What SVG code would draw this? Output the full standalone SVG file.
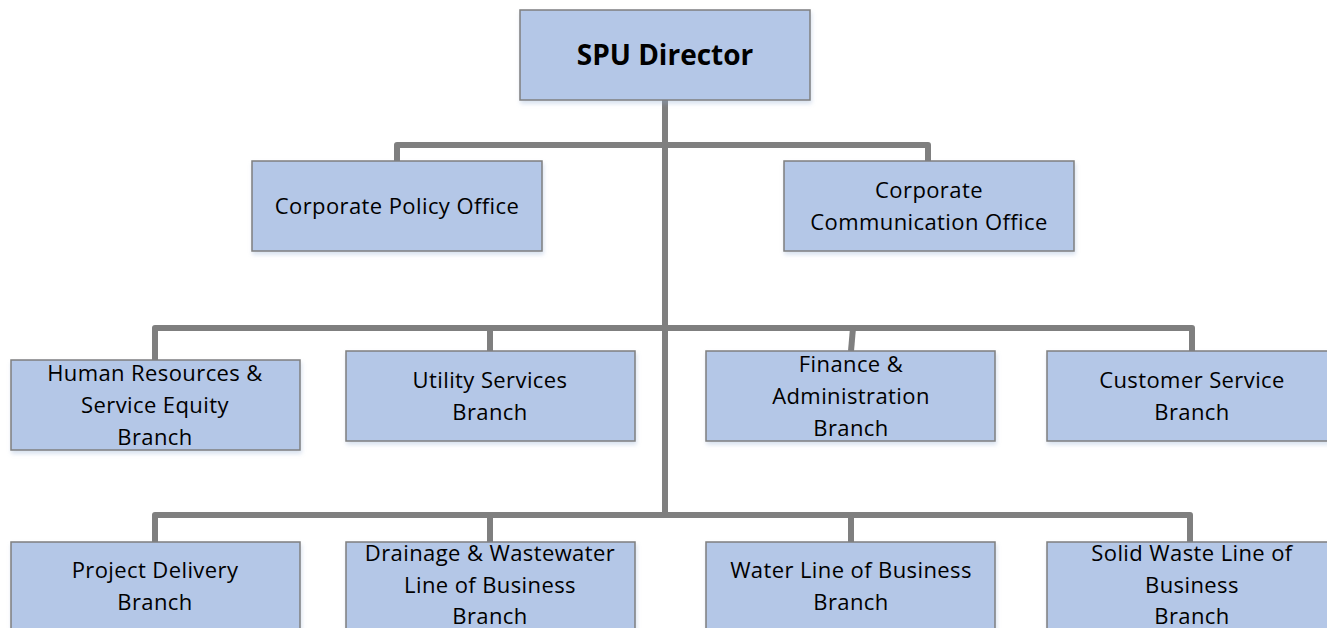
<svg xmlns="http://www.w3.org/2000/svg" width="1327" height="628" viewBox="0 0 1327 628">
<style>
.box{fill:#b4c7e7;stroke:#7f7f7f;stroke-width:1.5}
.t{font-family:"Open Sans","Liberation Sans",sans-serif;font-size:22px;letter-spacing:0.4px;fill:#000;text-anchor:middle}
.title{font-family:"Open Sans","Liberation Sans",sans-serif;font-size:28px;font-weight:bold;fill:#000;text-anchor:middle}
.c{fill:none;stroke:#7f7f7f;stroke-width:6;stroke-linejoin:round}
</style>
<defs>
<filter id="sh" x="-5%" y="-5%" width="115%" height="125%">
<feDropShadow dx="1" dy="3" stdDeviation="2" flood-color="#8fa8d0" flood-opacity="0.35"/>
</filter>
</defs>
<rect width="1327" height="628" fill="#fff"/>
<g id="connectors">
<path class="c" d="M665 100 V515"/>
<path class="c" d="M397 161 V145 H928 V161"/>
<path class="c" d="M155 360 V328 H1192 V351"/>
<path class="c" d="M490 328 V351"/>
<path class="c" d="M853 328 L851 351"/>
<path class="c" d="M155 542 V515 H1190 V542"/>
<path class="c" d="M490 515 V542"/>
<path class="c" d="M851 515 V542"/>
</g>
<g id="spu-director"><rect class="box" filter="url(#sh)" x="520" y="10" width="290" height="90"/><text class="title" x="665" y="65">SPU Director</text></g>
<g id="corporate-policy"><rect class="box" filter="url(#sh)" x="252" y="161" width="290" height="90"/><text class="t" x="397" y="214">Corporate Policy Office</text></g>
<g id="corporate-communication"><rect class="box" filter="url(#sh)" x="784" y="161" width="290" height="90"/><text class="t" x="929" y="198">Corporate</text><text class="t" x="929" y="230">Communication Office</text></g>
<g id="human-resources"><rect class="box" filter="url(#sh)" x="11" y="360" width="289" height="90"/><text class="t" x="155" y="381">Human Resources &amp;</text><text class="t" x="155" y="413">Service Equity</text><text class="t" x="155" y="445">Branch</text></g>
<g id="utility-services"><rect class="box" filter="url(#sh)" x="346" y="351" width="289" height="90"/><text class="t" x="490" y="388">Utility Services</text><text class="t" x="490" y="420">Branch</text></g>
<g id="finance"><rect class="box" filter="url(#sh)" x="706" y="351" width="289" height="90"/><text class="t" x="851" y="372">Finance &amp;</text><text class="t" x="851" y="404">Administration</text><text class="t" x="851" y="436">Branch</text></g>
<g id="customer-service"><rect class="box" filter="url(#sh)" x="1047" y="351" width="289" height="90"/><text class="t" x="1192" y="388">Customer Service</text><text class="t" x="1192" y="420">Branch</text></g>
<g id="project-delivery"><rect class="box" filter="url(#sh)" x="11" y="542" width="289" height="100"/><text class="t" x="155" y="578">Project Delivery</text><text class="t" x="155" y="610">Branch</text></g>
<g id="drainage"><rect class="box" filter="url(#sh)" x="346" y="542" width="289" height="100"/><text class="t" x="490" y="561">Drainage &amp; Wastewater</text><text class="t" x="490" y="593">Line of Business</text><text class="t" x="490" y="624">Branch</text></g>
<g id="water"><rect class="box" filter="url(#sh)" x="706" y="542" width="289" height="100"/><text class="t" x="851" y="578">Water Line of Business</text><text class="t" x="851" y="610">Branch</text></g>
<g id="solid-waste"><rect class="box" filter="url(#sh)" x="1047" y="542" width="289" height="100"/><text class="t" x="1192" y="561">Solid Waste Line of</text><text class="t" x="1192" y="593">Business</text><text class="t" x="1192" y="624">Branch</text></g>
</svg>
